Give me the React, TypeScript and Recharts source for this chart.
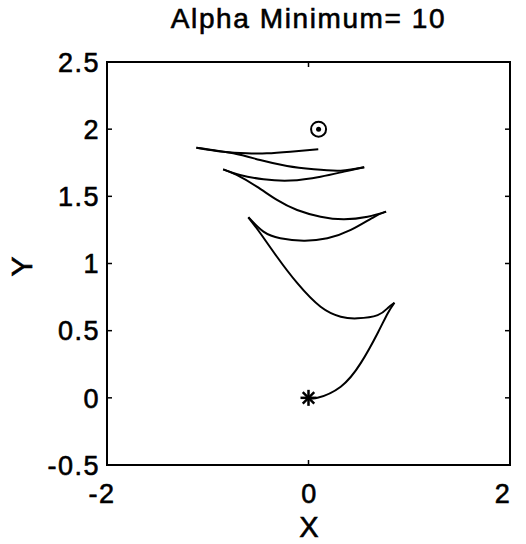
import { ComposedChart, Line, Scatter, XAxis, YAxis, ReferenceArea } from 'recharts';

// plot box in pixels (used only for the inward tick marks and labels)
const W = 526;
const H = 544;
const LEFT = 107;
const RIGHT = 510;
const TOP = 62;
const BOTTOM = 465;
const TICK = 5;
const FONT = "'Liberation Sans', Arial, Helvetica, sans-serif";

const xTicks = [-2, 0, 2];
const yTicks = [-0.5, 0, 0.5, 1, 1.5, 2, 2.5];

// trajectory, one arc per segment between cusps
const arc1 = [[0, 0], [0.09, 0.0], [0.32, 0.083], [0.52, 0.26], [0.687, 0.483], [0.787, 0.63], [0.853, 0.708]];
const arc2 = [[0.853, 0.708], [0.787, 0.669], [0.687, 0.616], [0.487, 0.592], [0.32, 0.604], [0.12, 0.678], [-0.113, 0.855], [-0.313, 1.05], [-0.48, 1.227], [-0.597, 1.344]];
const arc3 = [[-0.597, 1.344], [-0.447, 1.237], [-0.28, 1.188], [-0.047, 1.17], [0.187, 1.188], [0.42, 1.25], [0.653, 1.348], [0.77, 1.386]];
const arc4 = [[0.77, 1.386], [0.587, 1.348], [0.353, 1.329], [0.12, 1.348], [-0.113, 1.398], [-0.313, 1.473], [-0.513, 1.572], [-0.713, 1.659], [-0.847, 1.701]];
const arc5 = [[-0.847, 1.701], [-0.68, 1.659], [-0.447, 1.627], [-0.18, 1.617], [0.12, 1.646], [0.353, 1.684], [0.553, 1.716]];
const arc6 = [[0.553, 1.716], [0.32, 1.691], [0.053, 1.701], [-0.213, 1.726], [-0.48, 1.77], [-0.747, 1.82], [-1.113, 1.862]];
const arc7 = [[-1.113, 1.862], [-0.847, 1.832], [-0.613, 1.82], [-0.413, 1.82], [-0.18, 1.832], [0.097, 1.85]];
const arcs = [arc1, arc2, arc3, arc4, arc5, arc6, arc7];

const startPoint = [{ x: 0, y: 0 }];
const goalPoint = [{ x: 0.1, y: 2.0 }];

const toPts = (a: number[][]) => a.map(([x, y]) => ({ x, y }));

// small horizontal nudges so the x labels sit like the original
const xLabelShift: Record<string, number> = { '-2': -5, '0': 1, '2': -7 };

const XTick = (props: any) => {
    const { x, payload } = props;
    return (
        <g>
            <line x1={x} x2={x} y1={BOTTOM} y2={BOTTOM - TICK} stroke="#000" strokeWidth={1.5} />
            <line x1={x} x2={x} y1={TOP} y2={TOP + TICK} stroke="#000" strokeWidth={1.5} />
            <text x={x + (xLabelShift[String(payload.value)] || 0)} y={503} textAnchor="middle" fontFamily={FONT}
                fontSize={27} letterSpacing={1.5} fill="#000" stroke="#000" strokeWidth={0.6}>
                {payload.value}
            </text>
        </g>
    );
};

const YTick = (props: any) => {
    const { y, payload } = props;
    return (
        <g>
            <line x1={LEFT} x2={LEFT + TICK} y1={y} y2={y} stroke="#000" strokeWidth={1.5} />
            <line x1={RIGHT} x2={RIGHT - TICK} y1={y} y2={y} stroke="#000" strokeWidth={1.5} />
            <text x={100} y={y} dy="0.36em" textAnchor="end" fontFamily={FONT} fontSize={27} letterSpacing={1.5}
                fill="#000" stroke="#000" strokeWidth={0.6}>
                {payload.value}
            </text>
        </g>
    );
};

const YTitle = (props: any) => {
    const vb = props.viewBox || { y: TOP, height: BOTTOM - TOP };
    const cy = vb.y + vb.height / 2 + 3;
    return (
        <text x={21} y={cy} dy="0.36em" textAnchor="middle" transform={`rotate(-90 21 ${cy})`}
            fontFamily={FONT} fontSize={30} fill="#000" stroke="#000" strokeWidth={0.6}>Y</text>
    );
};

const XTitle = () => (
    <text x={309} y={537} textAnchor="middle" fontFamily={FONT} fontSize={29} fill="#000"
        stroke="#000" strokeWidth={0.6}>X</text>
);

const StarMark = (props: any) => {
    const { cx, cy } = props;
    const r = 8;
    const d = r * 0.72;
    return (
        <g stroke="#000" strokeWidth={2.5}>
            <line x1={cx - r} x2={cx + r} y1={cy} y2={cy} />
            <line x1={cx} x2={cx} y1={cy - r} y2={cy + r} />
            <line x1={cx - d} x2={cx + d} y1={cy - d} y2={cy + d} />
            <line x1={cx - d} x2={cx + d} y1={cy + d} y2={cy - d} />
        </g>
    );
};

const GoalMark = (props: any) => {
    const { cx, cy } = props;
    return (
        <g>
            <circle cx={cx} cy={cy} r={7.5} fill="none" stroke="#000" strokeWidth={2} />
            <circle cx={cx} cy={cy} r={2.5} fill="#000" />
        </g>
    );
};

export default function App() {
    return (
        <div style={{ position: 'absolute', left: 0, top: 0, width: W, height: H, background: '#fff' }}>
            <div style={{
                position: 'absolute', left: LEFT, width: RIGHT - LEFT, top: 5, textAlign: 'center',
                fontFamily: FONT, fontSize: 28, lineHeight: '28px', letterSpacing: 1.6, color: '#000',
                WebkitTextStroke: '0.6px #000'
            }}>
                Alpha Minimum= 10
            </div>
            <ComposedChart width={W} height={H} margin={{ top: TOP, right: W - RIGHT, bottom: 0, left: 0 }}>
                <XAxis dataKey="x" type="number" domain={[-2, 2]} ticks={xTicks} allowDataOverflow
                    height={H - BOTTOM} axisLine={false} tickLine={false} tickSize={0} tick={<XTick />}
                    interval={0} label={<XTitle />} />
                <YAxis dataKey="y" type="number" domain={[-0.5, 2.5]} ticks={yTicks} allowDataOverflow
                    width={LEFT} axisLine={false} tickLine={false} tickSize={0} tick={<YTick />}
                    interval={0} label={<YTitle />} />
                <ReferenceArea x1={-2} x2={2} y1={-0.5} y2={2.5} fill="none" fillOpacity={0}
                    stroke="#000" strokeWidth={2} ifOverflow="visible" />
                {arcs.map((a, i) => (
                    <Line key={i} data={toPts(a)} dataKey="y" type="natural" dot={false} activeDot={false}
                        stroke="#000" strokeWidth={2} isAnimationActive={false} />
                ))}
                <Scatter data={startPoint} dataKey="y" shape={<StarMark />} isAnimationActive={false} />
                <Scatter data={goalPoint} dataKey="y" shape={<GoalMark />} isAnimationActive={false} />
            </ComposedChart>
        </div>
    );
}
